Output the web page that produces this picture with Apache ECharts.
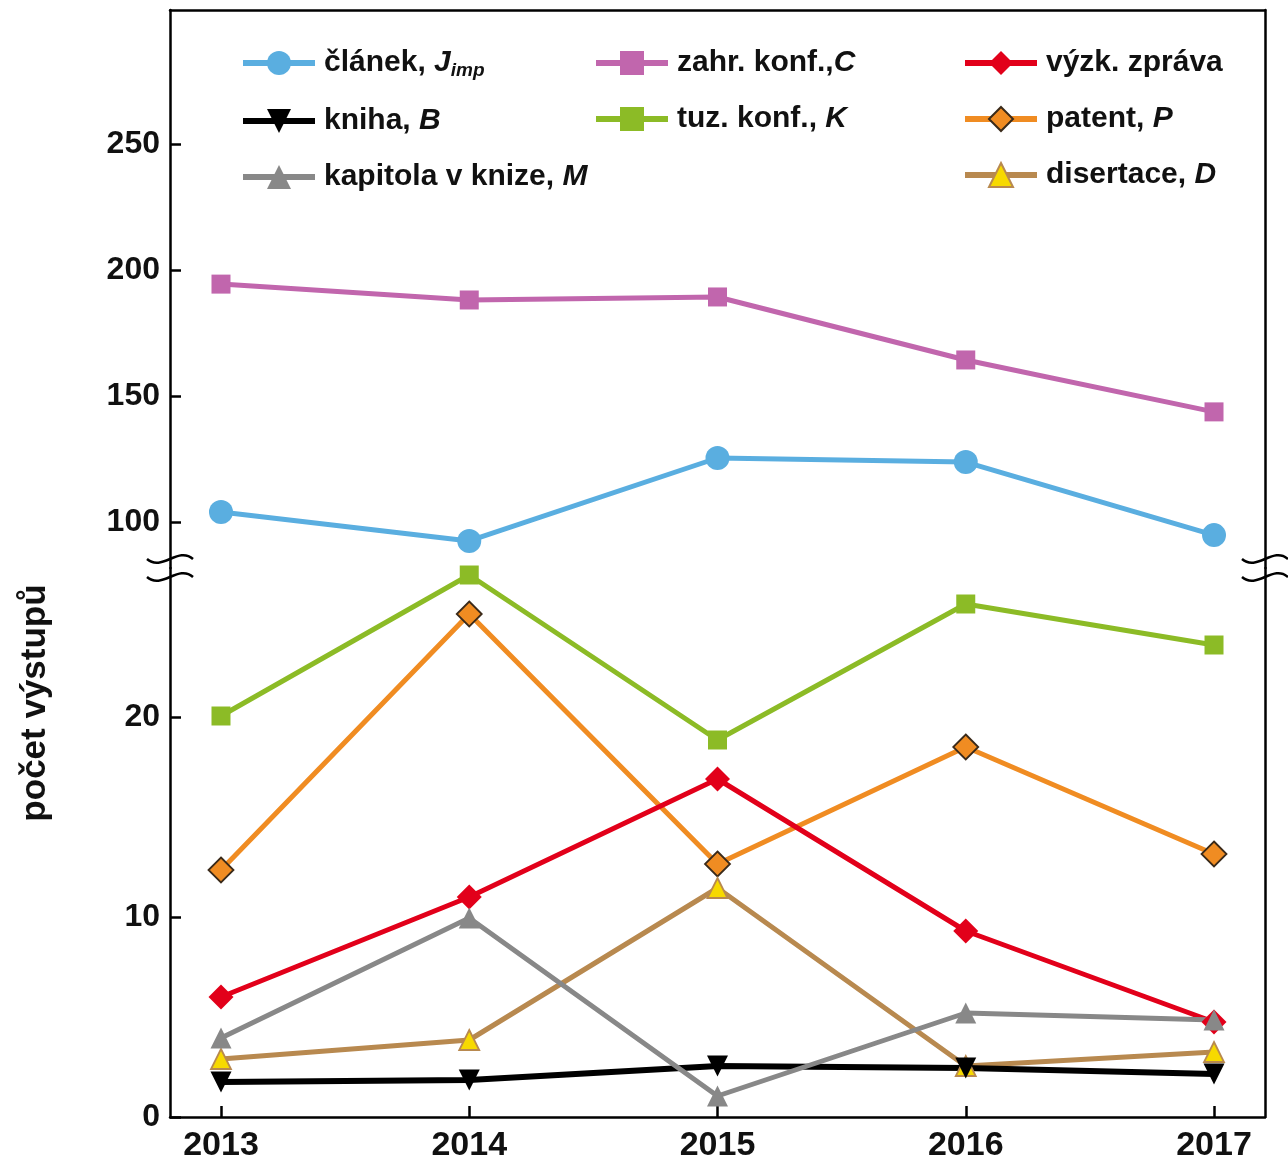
<!DOCTYPE html>
<html>
<head>
<meta charset="utf-8">
<script src="https://cdn.jsdelivr.net/npm/echarts@6/dist/echarts.min.js"></script>
<style>html,body{margin:0;padding:0;background:#fff}#c{width:1288px;height:1167px}</style>
</head>
<body>
<div id="c"></div>
<script>
const years = [2013, 2014, 2015, 2016, 2017];
// upper segment (broken axis, 80–300)
const clanek = [104, 92.5, 125.4, 123.8, 94.8];
const zahrKonf = [194.4, 188.1, 189.3, 164.3, 143.7];
// lower segment (0–27)
const tuzKonf = [20.05, 27.1, 18.85, 25.65, 23.6];
const patent = [12.35, 25.15, 12.65, 18.5, 13.15];
const vyzkZprava = [6.0, 11.0, 16.9, 9.3, 4.75];
const kapitola = [3.95, 9.95, 1.05, 5.2, 4.85];
const disertace = [2.9, 3.85, 11.45, 2.55, 3.25];
const kniha = [1.75, 1.85, 2.55, 2.45, 2.15];
const upperTicks = [100, 150, 200, 250];
const lowerTicks = [0, 10, 20];
const yTitle = 'počet výstupů';

const FONT = "'Liberation Sans', Arial, Helvetica, sans-serif";
const legendLabels = {
  'článek': '{n|článek, }{i|J}{s|imp}',
  'zahr. konf.': '{n|zahr. konf.,}{i|C}',
  'výzk. zpráva': '{n|výzk. zpráva}',
  'kniha': '{n|kniha, }{i|B}',
  'tuz. konf.': '{n|tuz. konf., }{i|K}',
  'patent': '{n|patent, }{i|P}',
  'kapitola v knize': '{n|kapitola v knize, }{i|M}',
  'disertace': '{n|disertace, }{i|D}'
};
const pairs = arr => years.map((y, i) => [y, arr[i]]);

const chart = echarts.init(document.getElementById('c'), null, {renderer: 'canvas'});
const axisLineStyle = {color: '#000', width: 2.5};
const xMin = 2012.7946, xMax = 2017.2054;
const upMin = 81.75, upMax = 303.17, lowMax = 27.45;

const rich = {
  n: {fontSize: 30, fontWeight: 'bold', fontFamily: FONT, color: '#111', lineHeight: 34},
  i: {fontSize: 30, fontWeight: 'bold', fontStyle: 'italic', fontFamily: FONT, color: '#111', lineHeight: 34},
  s: {fontSize: 19, fontWeight: 'bold', fontStyle: 'italic', fontFamily: FONT, color: '#111', lineHeight: 10, verticalAlign: 'bottom'}
};
function mkLegend(left, data) {
  return {
    orient: 'vertical', left: left, top: 43, itemWidth: 72, itemHeight: 30, itemGap: 26,
    data: data, formatter: n => legendLabels[n],
    lineStyle: {width: 6},
    textStyle: {rich: rich, padding: [0, 0, 0, 4]}, selectedMode: false
  };
}
function line(name, arr, color, symbol, size, yIdx, extra) {
  return Object.assign({
    name: name, type: 'line', xAxisIndex: yIdx === 0 ? 0 : 1, yAxisIndex: yIdx,
    data: pairs(arr), symbol: symbol, symbolSize: size, showSymbol: true,
    lineStyle: {color: color, width: 5}, itemStyle: {color: color},
    emphasis: {disabled: true}, animation: false
  }, extra || {});
}
function breakMark(x, y) {
  return {type: 'bezierCurve', shape: {x1: x - 23, y1: y, cpx1: x - 8, cpy1: y + 13, cpx2: x + 8, cpy2: y - 13, x2: x + 23, y2: y},
    style: {stroke: '#000', lineWidth: 2.5, fill: null}, z: 100};
}

chart.setOption({
  backgroundColor: '#fff',
  animation: false,
  grid: [
    {left: 170, right: 23, top: 10, height: 558},
    {left: 170, right: 23, top: 568, bottom: 50}
  ],
  xAxis: [
    {gridIndex: 0, type: 'value', min: xMin, max: xMax, position: 'top',
      axisLine: {show: true, lineStyle: axisLineStyle}, axisTick: {show: false}, axisLabel: {show: false}, splitLine: {show: false}},
    {gridIndex: 1, type: 'value', min: xMin, max: xMax, position: 'bottom',
      axisLine: {show: true, onZero: false, lineStyle: axisLineStyle},
      axisTick: {show: true, inside: true, length: 11, customValues: years, lineStyle: axisLineStyle},
      axisLabel: {customValues: years, fontSize: 34, fontWeight: 'bold', fontFamily: FONT, color: '#111', margin: 12, formatter: v => String(v)},
      splitLine: {show: false}}
  ],
  yAxis: [
    {gridIndex: 0, type: 'value', min: upMin, max: upMax, position: 'left',
      axisLine: {show: true, lineStyle: axisLineStyle},
      axisTick: {show: true, inside: true, length: 11, customValues: upperTicks, lineStyle: axisLineStyle},
      axisLabel: {customValues: upperTicks, fontSize: 32, fontWeight: 'bold', fontFamily: FONT, color: '#111', margin: 10},
      splitLine: {show: false}},
    {gridIndex: 0, type: 'value', min: upMin, max: upMax, position: 'right',
      axisLine: {show: true, lineStyle: axisLineStyle}, axisTick: {show: false}, axisLabel: {show: false}, splitLine: {show: false}},
    {gridIndex: 1, type: 'value', min: 0, max: lowMax, position: 'left',
      axisLine: {show: true, lineStyle: axisLineStyle},
      axisTick: {show: true, inside: true, length: 11, customValues: lowerTicks, lineStyle: axisLineStyle},
      axisLabel: {customValues: lowerTicks, fontSize: 32, fontWeight: 'bold', fontFamily: FONT, color: '#111', margin: 10},
      splitLine: {show: false}},
    {gridIndex: 1, type: 'value', min: 0, max: lowMax, position: 'right',
      axisLine: {show: true, lineStyle: axisLineStyle}, axisTick: {show: false}, axisLabel: {show: false}, splitLine: {show: false}}
  ],
  legend: [
    mkLegend(235, ['článek', 'kniha', 'kapitola v knize']),
    mkLegend(588, ['zahr. konf.', 'tuz. konf.']),
    mkLegend(957, ['výzk. zpráva', 'patent', 'disertace'])
  ],
  graphic: [
    breakMark(170, 559), breakMark(170, 577),
    breakMark(1265, 559), breakMark(1265, 577),
    {type: 'text', x: 35, y: 703, rotation: Math.PI / 2,
      style: {text: yTitle, font: 'bold 35px ' + FONT, fill: '#111', align: 'center', verticalAlign: 'middle'}}
  ],
  series: [
    line('zahr. konf.', zahrKonf, '#c166ad', 'rect', 19, 0),
    line('článek', clanek, '#5aaee0', 'circle', 24, 0),
    line('tuz. konf.', tuzKonf, '#8cbb26', 'rect', 19, 2),
    line('patent', patent, '#f08c22', 'diamond', 25, 2, {itemStyle: {color: '#f08c22', borderColor: '#3a2a1a', borderWidth: 1.8}}),
    line('výzk. zpráva', vyzkZprava, '#e2001a', 'diamond', 25, 2),
    line('disertace', disertace, '#b8894f', 'triangle', 20, 2, {itemStyle: {color: '#f7d900', borderColor: '#b8894f', borderWidth: 1.8}}),
    line('kniha', kniha, '#000000', 'triangle', 21, 2, {symbolRotate: 180, lineStyle: {color: '#000', width: 6}}),
    line('kapitola v knize', kapitola, '#888888', 'triangle', 21, 2)
  ]
});
</script>
</body>
</html>
